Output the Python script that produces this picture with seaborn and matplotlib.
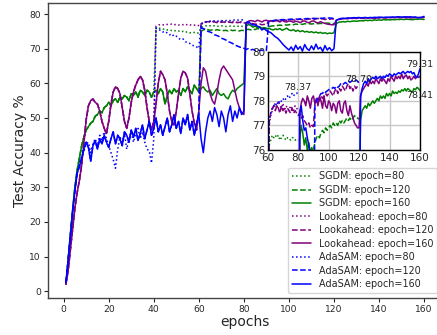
import matplotlib
matplotlib.use("Agg")
import matplotlib.pyplot as plt
import seaborn as sns
import numpy as np

# ---------------- data (test accuracy %, per epoch) ----------------
sgdm_base = [2.0, 9.0, 16.5, 23.5, 30.0, 35.0, 38.5, 42.0, 44.5, 46.5, 47.5, 48.5, 49.0, 50.5, 51.0, 52.0,
             51.5, 53.0, 53.5, 54.5, 53.5, 55.0, 55.5, 54.5, 56.0, 55.5, 56.5, 56.0, 55.0, 57.0, 56.5, 57.5,
             56.0, 58.0, 57.5, 56.5, 58.0, 57.5, 56.0, 57.5]
sgdm_80_tail = [75.9, 76.0, 75.8, 75.6, 75.7, 75.4, 75.5, 75.2, 75.3, 75.0, 75.1, 74.8, 75.0, 74.7, 74.9,
                74.6, 74.5, 74.7, 74.4, 74.6,
                76.2, 76.4, 76.6, 76.5, 76.6, 76.5, 76.6, 76.4, 76.5, 76.6, 76.5, 76.4, 76.5, 76.5, 76.4,
                76.5, 76.5, 76.4, 76.45, 76.4]
sgdm_mid = [58.0, 57.0, 58.5, 57.5, 54.0, 56.5, 58.0, 57.0, 58.5, 57.5, 58.0, 56.5, 58.5, 57.5, 59.0, 58.0,
            57.0, 59.5, 58.5, 57.5]
sgdm_120_tail = [75.0, 75.4, 75.6, 75.5, 75.3, 75.4, 75.2, 75.5, 75.3, 75.4, 75.2, 75.3, 75.1, 75.4, 75.2,
                 75.3, 75.2, 75.1, 75.3, 75.2, 75.5, 75.6, 75.4, 75.7, 75.5, 75.8, 75.6, 75.9, 75.8, 76.0,
                 76.3, 76.5, 76.6, 76.5, 76.7, 76.8, 76.7, 76.9, 76.8, 76.9, 77.0, 76.9, 77.1, 77.0, 77.1,
                 77.0, 77.2, 77.1, 77.2, 77.1, 77.2, 77.3, 77.2, 77.3, 77.2, 77.3, 77.4, 77.3, 77.3, 77.25]
sgdm_160_tail = [58.5, 59.0, 58.0, 57.5, 58.0, 56.5, 57.5, 58.5, 57.0, 56.5, 57.0, 56.0, 55.5, 57.0, 58.0,
                 57.5, 58.5, 59.0, 59.5, 60.0,
                 76.4, 77.0, 76.7, 76.2, 76.5, 76.0, 76.3, 75.9, 76.1, 75.7, 75.9, 75.6, 75.4, 75.7, 75.5,
                 75.8, 75.3, 75.6, 75.9, 75.4, 75.2, 75.5, 75.0, 75.3, 74.9, 75.2, 74.8, 75.0, 74.7, 74.9,
                 74.6, 74.8, 74.5, 74.7, 74.4, 74.6, 74.3, 74.5, 74.4, 74.6,
                 77.2, 77.6, 77.7, 77.8, 77.7, 77.9, 77.8, 77.9, 78.0, 77.9, 78.0, 78.1, 78.0, 78.2, 78.1,
                 78.2, 78.1, 78.3, 78.2, 78.3, 78.2, 78.4, 78.3, 78.35, 78.3, 78.4, 78.35, 78.45, 78.4, 78.5,
                 78.4, 78.5, 78.45, 78.4, 78.35, 78.5, 78.45, 78.55, 78.5, 78.41]

look_base = [2.0, 6.0, 12.0, 18.0, 24.0, 28.5, 32.0, 36.5, 43.0, 49.5, 53.5, 55.0, 55.5, 54.5, 54.0, 52.0,
             49.0, 47.0, 45.5, 49.0, 54.0, 57.5, 59.0, 58.5, 57.0, 53.0, 49.0, 47.0, 50.0, 54.5, 57.5, 59.5,
             61.0, 62.0, 61.0, 58.0, 53.0, 49.0, 46.5, 49.0]
look_80_tail = [76.5, 76.8, 77.0, 76.9, 76.8, 77.0, 76.9, 77.1, 76.9, 77.0, 76.8, 77.0, 76.9, 77.1, 76.8,
                76.9, 76.7, 76.8, 76.6, 76.7,
                77.0, 77.4, 77.6, 77.8, 77.9, 77.7, 78.0, 77.8, 77.7, 77.9, 77.6, 77.8, 77.7, 77.6, 77.8,
                77.7, 77.6, 77.8, 77.7, 77.6]
look_mid = [54.0, 60.0, 63.5, 62.5, 61.0, 57.0, 52.0, 49.0, 48.0, 52.0, 57.0, 61.5, 63.5, 63.0, 61.5, 57.0,
            52.0, 48.5, 46.5, 52.0]
look_120_tail = [77.2, 77.5, 77.7, 77.8, 77.6, 77.8, 77.7, 77.5, 77.8, 77.6, 77.7, 77.5, 77.7, 77.6, 77.5,
                 77.7, 77.5, 77.6, 77.5, 77.4, 77.5, 77.3, 77.4, 77.2, 77.1, 77.0, 77.1, 76.9, 77.0, 76.95,
                 77.9, 78.0, 78.1, 78.0, 78.2, 78.1, 78.2, 78.3, 78.2, 78.3, 78.4, 78.3, 78.2, 78.4, 78.5,
                 78.3, 78.5, 78.4, 78.6, 78.5, 78.4, 78.6, 78.7, 78.5, 78.6, 78.4, 78.6, 78.5, 78.6, 78.6]
look_160_tail = [60.0, 64.5, 63.5, 60.0, 57.0, 55.0, 54.0, 57.0, 61.0, 64.0, 65.0, 64.0, 63.0, 62.0, 61.0,
                 58.0, 55.0, 53.0, 51.5, 51.0,
                 77.5, 77.9, 78.1, 78.0, 77.8, 78.2, 78.0, 77.7, 78.1, 78.2, 77.9, 78.1, 77.8, 78.2, 78.0,
                 77.7, 78.2, 77.8, 77.7, 78.0, 77.9, 77.6, 77.9, 77.8, 77.5, 77.9, 78.0, 77.6, 77.5, 77.9,
                 78.0, 77.6, 77.4, 77.8, 77.5, 77.3, 77.1, 77.0, 76.9, 76.9,
                 78.2, 78.4, 78.5, 78.6, 78.7, 78.6, 78.8, 78.7, 78.8, 78.7, 78.9, 78.8, 78.7, 78.9, 78.8,
                 78.9, 78.8, 78.7, 78.9, 78.8, 79.0, 78.9, 78.8, 79.0, 78.9, 79.0, 78.9, 79.1, 78.9, 79.0,
                 79.05, 78.9, 79.0, 78.85, 78.9, 79.0, 78.9, 79.0, 78.95, 79.0]

ada_80_head = [2.5, 9.5, 16.5, 23.5, 29.5, 34.5, 37.0, 39.0, 40.5, 42.5, 43.0, 40.0, 42.5, 44.0, 42.0, 45.0,
               43.5, 46.0, 44.0, 42.0, 40.0, 38.0, 35.5, 41.0, 44.5, 43.0, 45.5, 41.0, 44.0, 46.0, 43.0,
               45.5, 47.0, 44.0, 46.0, 43.0, 41.0, 40.5, 37.0, 44.0]
ada_80_tail = [76.0, 75.5, 75.3, 74.8, 75.0, 74.5, 74.0, 74.3, 73.5, 73.6, 73.0, 72.6, 72.8, 72.0, 71.8,
               71.5, 71.0, 70.8, 70.5, 70.1,
               77.2, 77.5, 77.7, 77.8, 77.9, 77.8, 78.0, 77.9, 78.0, 78.1, 78.0, 78.1, 78.2, 78.1, 78.2,
               78.3, 78.2, 78.3, 78.3, 78.37]
ada_base = [2.5, 9.0, 16.0, 23.0, 29.0, 34.0, 36.0, 38.5, 41.0, 43.0, 41.5, 37.5, 42.0, 43.5, 41.0, 44.0,
            42.5, 45.0, 43.0, 41.5, 44.0, 46.0, 42.5, 45.0, 44.0, 42.0, 46.0, 45.0, 43.0, 46.5, 44.5, 47.0,
            43.5, 45.5, 48.0, 44.0, 46.5, 49.0, 45.0, 47.0,
            50.0, 46.0, 48.0, 45.0, 47.5, 50.0, 46.0, 48.0, 51.0, 47.0, 49.0, 45.5, 50.0, 48.0, 51.0, 46.5,
            49.0, 45.0, 48.5, 51.0]
ada_120_tail = [76.0, 75.8, 75.5, 75.0, 74.8, 74.5, 74.0, 73.8, 73.5, 73.0, 72.8, 72.5, 72.0, 71.8, 71.5,
                71.0, 70.8, 70.5, 70.3, 70.1, 69.8, 70.0, 69.6, 69.8, 69.5, 69.7, 69.4, 69.6, 69.3, 69.5,
                77.8, 78.0, 78.1, 78.2, 78.3, 78.3, 78.4, 78.35, 78.4, 78.45, 78.5, 78.5, 78.55, 78.5, 78.6,
                78.55, 78.6, 78.7, 78.65, 78.7, 78.75, 78.7, 78.8, 78.75, 78.8, 78.85, 78.8, 78.85, 78.8, 78.70]
ada_160_tail = [44.0, 40.0, 46.0, 50.0, 52.0, 49.0, 53.0, 51.0, 47.5, 52.0, 50.0, 46.0, 51.0, 53.5, 49.0,
                52.0, 50.0, 53.0, 51.0, 52.0,
                77.5, 77.8, 77.2, 76.8, 76.9, 76.5, 76.2, 75.4, 75.8, 75.2, 74.9, 74.6, 74.0, 73.4, 73.0,
                72.3, 71.5, 70.8, 70.2, 69.6, 70.5, 69.4, 71.0, 69.8, 70.6, 69.3, 71.2, 70.0, 69.5, 70.8,
                69.7, 71.3, 69.9, 70.4, 69.2, 70.9, 69.6, 70.3, 69.4, 70.0,
                78.2, 78.5, 78.7, 78.8, 78.7, 78.9, 78.8, 78.9, 78.95, 78.9, 79.0, 78.9, 78.95, 79.0, 78.9,
                79.0, 78.95, 79.05, 79.0, 79.1, 79.05, 79.0, 79.1, 79.05, 79.1, 79.15, 79.1, 79.15, 79.2,
                79.1, 79.15, 79.2, 79.15, 79.2, 79.1, 79.15, 79.0, 78.95, 79.1, 79.31]

series = [
    ("SGDM: epoch=80", sgdm_base + sgdm_80_tail, "green", ":"),
    ("SGDM: epoch=120", sgdm_base + sgdm_mid + sgdm_120_tail, "green", "--"),
    ("SGDM: epoch=160", sgdm_base + sgdm_mid + sgdm_160_tail, "green", "-"),
    ("Lookahead: epoch=80", look_base + look_80_tail, "purple", ":"),
    ("Lookahead: epoch=120", look_base + look_mid + look_120_tail, "purple", "--"),
    ("Lookahead: epoch=160", look_base + look_mid + look_160_tail, "purple", "-"),
    ("AdaSAM: epoch=80", ada_80_head + ada_80_tail, "blue", ":"),
    ("AdaSAM: epoch=120", ada_base + ada_120_tail, "blue", "--"),
    ("AdaSAM: epoch=160", ada_base + ada_160_tail, "blue", "-"),
]
annotations = [(80, 78.37, "bottom"), (120, 78.70, "bottom"), (160, 79.31, "bottom"), (160, 78.41, "top")]

# ---------------- plot ----------------
sns.set_theme(style="ticks")
plt.rcParams["font.family"] = ["DejaVu Sans"]

W, H = 437, 335
fig = plt.figure(figsize=(W / 100, H / 100), dpi=100)
ax = fig.add_axes([48 / W, 1 - 297.7 / H, (442 - 48) / W, (297.7 - 3) / H])

LW = 1.1
for label, vals, col, ls in series:
    x = np.arange(1, len(vals) + 1)
    sns.lineplot(x=x, y=vals, ax=ax, color=col, linestyle=ls, linewidth=LW, label=label)

ax.set_xticks(range(0, 161, 20))
ax.set_yticks(range(0, 81, 10))
ax.tick_params(labelsize=6.6, length=3, width=0.8, pad=2)
ax.set_xlabel("epochs", fontsize=10, labelpad=1)
ax.set_ylabel("Test Accuracy %", fontsize=10, labelpad=2)
for s in ax.spines.values():
    s.set_color("#444444")
    s.set_linewidth(1.0)

leg = ax.legend(loc="lower right", fontsize=6.9, labelspacing=0.36, handlelength=2.0,
                borderpad=0.4, frameon=True, fancybox=True, framealpha=0.8, edgecolor="#cccccc")

# inset
axi = fig.add_axes([267.7 / W, 1 - 150 / H, (420 - 267.7) / W, (150 - 51.7) / H])
for label, vals, col, ls in series:
    x = np.arange(1, len(vals) + 1)
    sns.lineplot(x=x, y=vals, ax=axi, color=col, linestyle=ls, linewidth=LW, legend=False)
axi.set_xlim(60, 160)
axi.set_ylim(76, 80)
axi.set_xticks(range(60, 161, 20))
axi.set_yticks(range(76, 81, 1))
axi.grid(True, color="#c8c8c8", linewidth=1.0)
axi.set_axisbelow(True)
axi.tick_params(labelsize=7.5, length=0, pad=2)
axi.set_xlabel("")
axi.set_ylabel("")
for s in axi.spines.values():
    s.set_color("black")
    s.set_linewidth(1.0)
for xv, yv, va in annotations:
    axi.text(xv, yv, f"{yv:.2f}", ha="center", va=va, fontsize=6.8, color="#222222")

fig.savefig("out.png", dpi=100)
